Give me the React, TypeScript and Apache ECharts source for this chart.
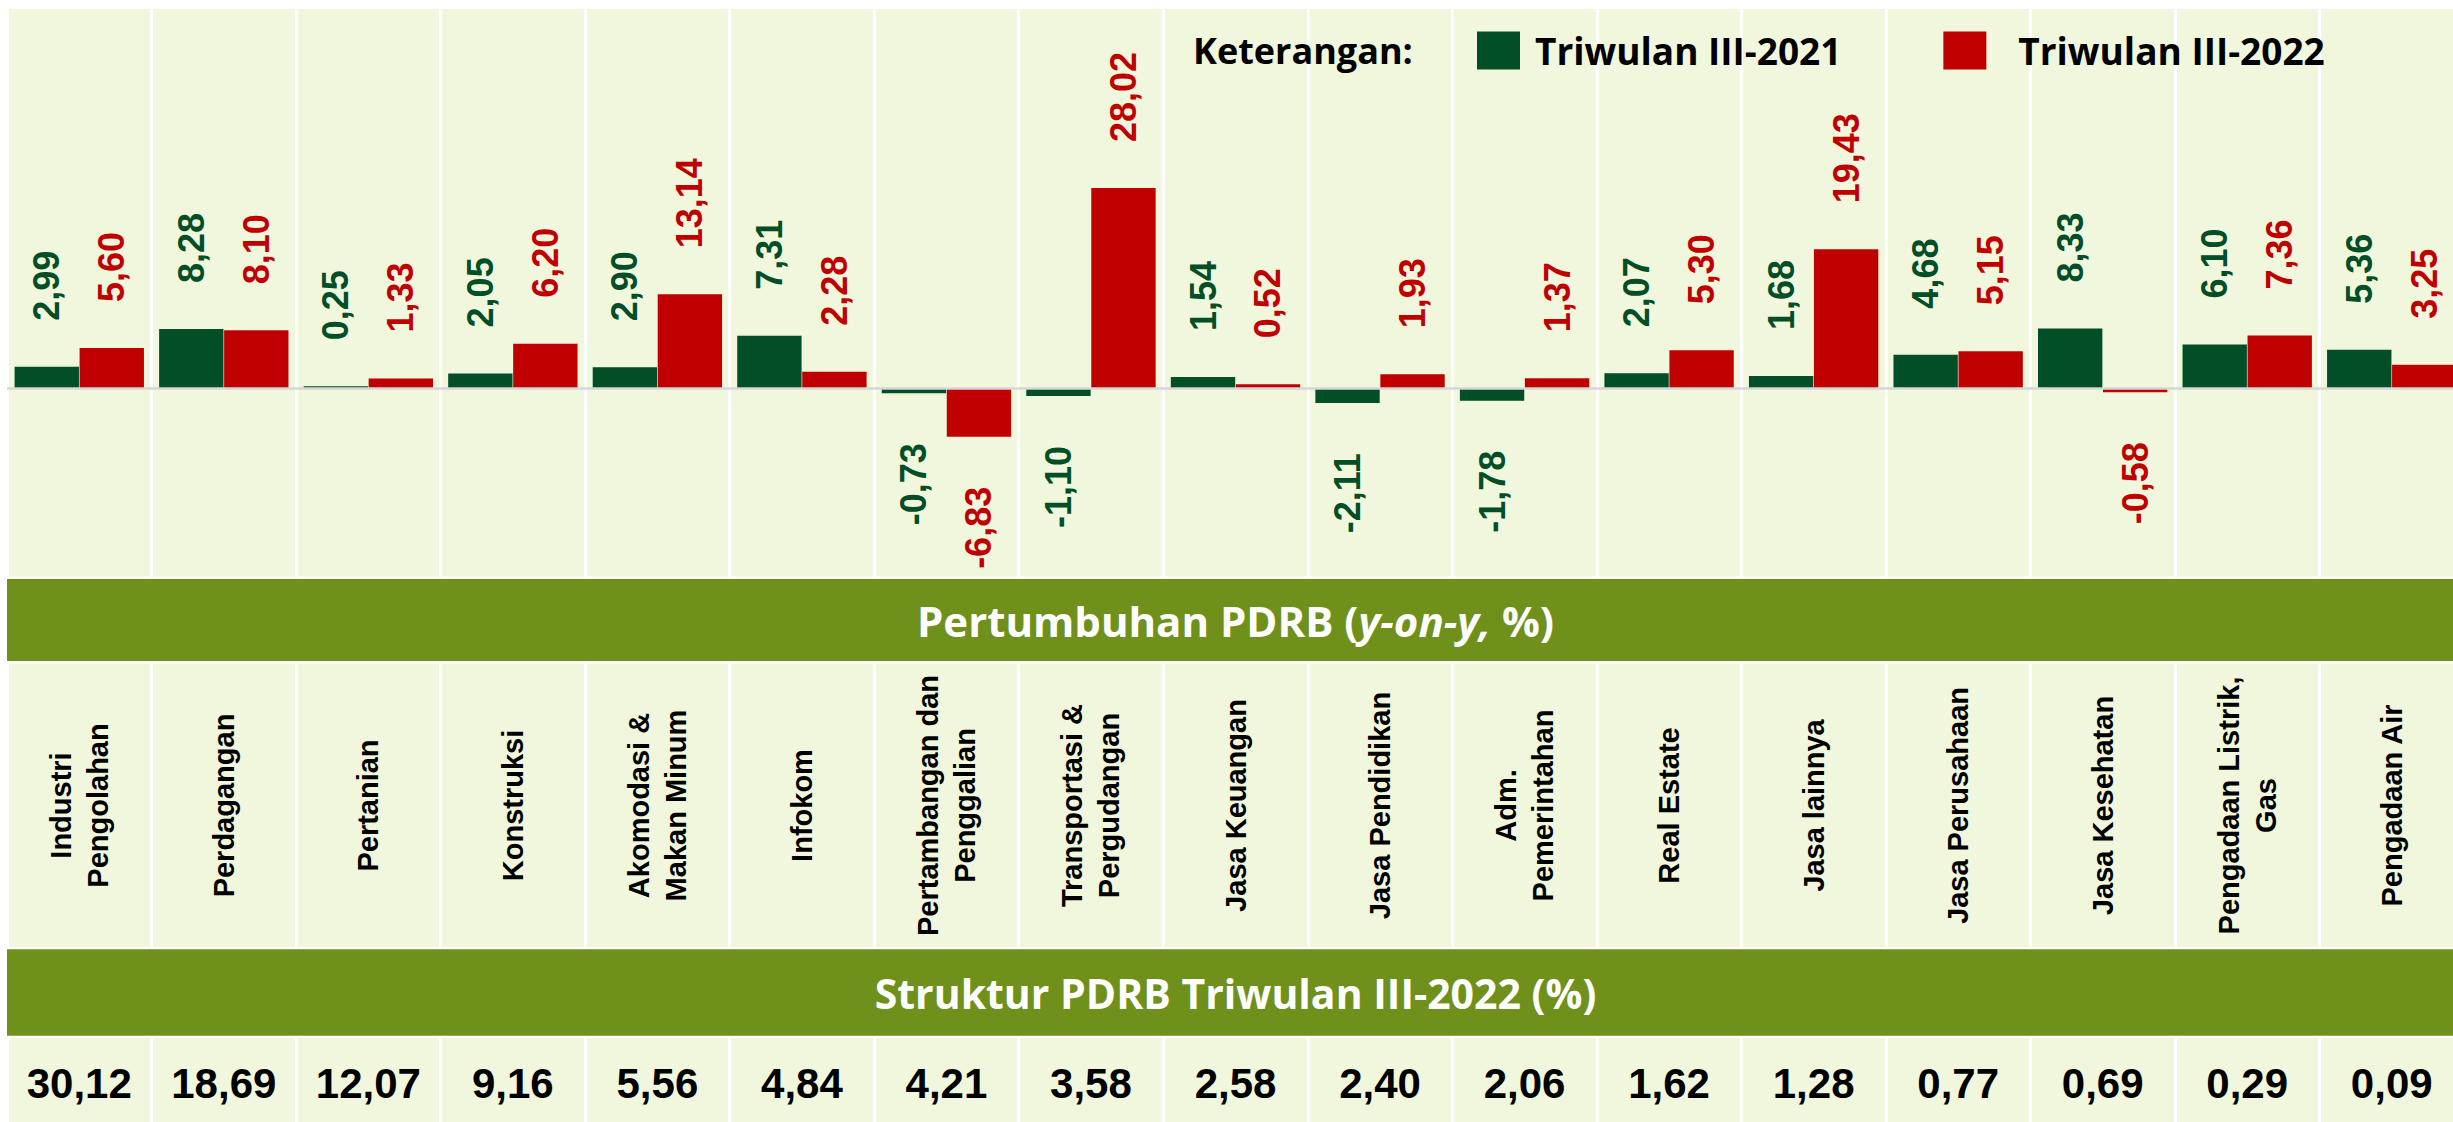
import React, { useEffect, useRef } from "react";
import * as echarts from "echarts";

const categories = [
  "Industri\nPengolahan",
  "Perdagangan",
  "Pertanian",
  "Konstruksi",
  "Akomodasi &\nMakan Minum",
  "Infokom",
  "Pertambangan dan\nPenggalian",
  "Transportasi &\nPergudangan",
  "Jasa Keuangan",
  "Jasa Pendidikan",
  "Adm.\nPemerintahan",
  "Real Estate",
  "Jasa lainnya",
  "Jasa Perusahaan",
  "Jasa Kesehatan",
  "Pengadaan Listrik,\nGas",
  "Pengadaan Air",
];
const seriesNames = ["Triwulan III-2021", "Triwulan III-2022"];
const growth2021 = [2.99, 8.28, 0.25, 2.05, 2.9, 7.31, -0.73, -1.1, 1.54, -2.11, -1.78, 2.07, 1.68, 4.68, 8.33, 6.1, 5.36];
const growth2022 = [5.6, 8.1, 1.33, 6.2, 13.14, 2.28, -6.83, 28.02, 0.52, 1.93, 1.37, 5.3, 19.43, 5.15, -0.58, 7.36, 3.25];
const share2022 = [30.12, 18.69, 12.07, 9.16, 5.56, 4.84, 4.21, 3.58, 2.58, 2.4, 2.06, 1.62, 1.28, 0.77, 0.69, 0.29, 0.09];
const yMin = -26.4;
const yMax = 53.1;

const fmt = (v: number) => v.toFixed(2).replace(".", ",");

const W = 2457;
const H = 1122;
const PLOT_TOP = 1;
const PLOT_H = 567.5;
const BAND1_TOP = 571;
const BAND1_H = 82;
const CAT_TOP = 655.7;
const CAT_H = 283.6;
const BAND2_TOP = 941.3;
const BAND2_H = 86.4;
const VAL_TOP = 1030.3;
const VAL_H = 93.7;

const BG = "#F0F7DD";
const BAND = "#6F901B";
const GREEN = "#024E27";
const RED = "#C00000";
const HEAD_FONT = '"Open Sans", "Noto Sans", sans-serif';
const ARIAL = '"Liberation Sans", Arial, sans-serif';

function barData(values: number[]) {
  return values.map((v) =>
    v < 0
      ? { value: v, label: { position: "bottom", align: "right", distance: 50 } }
      : { value: v }
  );
}

export default function App() {
  const ref = useRef<HTMLDivElement>(null);
  useEffect(() => {
    if (!ref.current) return;
    const chart = echarts.init(ref.current, null, { renderer: "svg" });
    const splitLine = { show: true, interval: 0, lineStyle: { color: "#FFFFFF", width: 3 } };
    const gridBase = { left: 0, right: 0, show: true, backgroundColor: BG, borderWidth: 0 };
    const barLabel = (color: string) => ({
      show: true,
      position: "top",
      distance: 46,
      rotate: 90,
      align: "left",
      verticalAlign: "middle",
      color,
      fontFamily: ARIAL,
      fontWeight: "bold",
      fontSize: 36,
      formatter: (p: any) => fmt(p.value),
    });
    const legendText = {
      fontFamily: HEAD_FONT,
      fontWeight: "bold",
      fontSize: 37,
      color: "#000000",
    };
    const option: any = {
      animation: false,
      backgroundColor: "#FFFFFF",
      grid: [
        { ...gridBase, top: PLOT_TOP, height: PLOT_H },
        { ...gridBase, top: CAT_TOP, height: CAT_H },
        { ...gridBase, top: VAL_TOP, height: VAL_H },
      ],
      xAxis: [
        {
          type: "category",
          gridIndex: 0,
          data: categories,
          z: 10,
          axisLine: { show: true, onZero: true, lineStyle: { color: "#D6D6D6", width: 2.5 } },
          axisTick: { show: false },
          axisLabel: { show: false },
          splitLine,
        },
        {
          type: "category",
          gridIndex: 1,
          data: categories,
          position: "bottom",
          axisLine: { show: false },
          axisTick: { show: false },
          splitLine,
          axisLabel: {
            show: true,
            interval: 0,
            rotate: 90,
            align: "center",
            verticalAlign: "middle",
            margin: -CAT_H / 2,
            color: "#000000",
            fontFamily: ARIAL,
            fontWeight: "bold",
            fontSize: 29,
            lineHeight: 37,
          },
        },
        {
          type: "category",
          gridIndex: 2,
          data: share2022.map(fmt),
          position: "bottom",
          axisLine: { show: false },
          axisTick: { show: false },
          splitLine,
          axisLabel: {
            show: true,
            interval: 0,
            align: "center",
            verticalAlign: "middle",
            margin: -(VAL_H - 47),
            color: "#000000",
            fontFamily: ARIAL,
            fontWeight: "bold",
            fontSize: 42,
          },
        },
      ],
      yAxis: [
        { type: "value", gridIndex: 0, min: yMin, max: yMax, show: false, splitLine: { show: false } },
        { type: "value", gridIndex: 1, min: 0, max: 1, show: false, splitLine: { show: false } },
        { type: "value", gridIndex: 2, min: 0, max: 1, show: false, splitLine: { show: false } },
      ],
      legend: {
        data: [
          { name: seriesNames[0], textStyle: { ...legendText, padding: [0, 0, 0, 10] } },
          { name: seriesNames[1], textStyle: { ...legendText, padding: [0, 0, 0, 27] } },
        ],
        z: 30,
        left: 1470,
        top: 23.4,
        padding: 0,
        icon: "rect",
        itemWidth: 43,
        itemHeight: 38,
        itemGap: 102,
        selectedMode: false,
        textStyle: legendText,
      },
      series: [
        {
          name: seriesNames[0],
          type: "bar",
          xAxisIndex: 0,
          yAxisIndex: 0,
          data: barData(growth2021),
          itemStyle: { color: GREEN },
          barCategoryGap: "10.5%",
          barGap: "1%",
          label: barLabel(GREEN),
        },
        {
          name: seriesNames[1],
          type: "bar",
          xAxisIndex: 0,
          yAxisIndex: 0,
          data: barData(growth2022),
          itemStyle: { color: RED },
          barCategoryGap: "10.5%",
          barGap: "1%",
          label: barLabel(RED),
        },
      ],
      graphic: [
        {
          type: "rect",
          shape: { x: 0, y: BAND1_TOP, width: W, height: BAND1_H },
          style: { fill: BAND },
          silent: true,
        },
        {
          type: "rect",
          shape: { x: 0, y: BAND2_TOP, width: W, height: BAND2_H },
          style: { fill: BAND },
          silent: true,
        },
        {
          type: "text",
          x: W / 2,
          y: BAND1_TOP + BAND1_H / 2,
          z: 30,
          silent: true,
          style: {
            text: "{n|Pertumbuhan PDRB (}{i|y-on-y,}{n| %)}",
            align: "center",
            verticalAlign: "middle",
            fill: "#FFFFFF",
            font: `bold 42px ${HEAD_FONT}`,
            rich: {
              n: { fill: "#FFFFFF", fontSize: 42, fontWeight: "bold", fontFamily: HEAD_FONT },
              i: { fill: "#FFFFFF", fontSize: 42, fontWeight: "bold", fontStyle: "italic", fontFamily: HEAD_FONT },
            },
          },
        },
        {
          type: "text",
          x: W / 2,
          y: BAND2_TOP + BAND2_H / 2,
          z: 30,
          silent: true,
          style: {
            text: "Struktur PDRB Triwulan III-2022 (%)",
            align: "center",
            verticalAlign: "middle",
            fill: "#FFFFFF",
            font: `bold 41px ${HEAD_FONT}`,
          },
        },
        {
          type: "text",
          x: 1186,
          y: 42,
          z: 30,
          silent: true,
          style: {
            text: "Keterangan:",
            align: "left",
            verticalAlign: "middle",
            fill: "#000000",
            font: `bold 36px ${HEAD_FONT}`,
          },
        },
      ],
    };
    chart.setOption(option);
    return () => chart.dispose();
  }, []);
  return (
    <div style={{ position: "fixed", left: 0, top: 0, width: "100vw", height: "100vh", overflow: "hidden", background: "#fff" }}>
      <div ref={ref} style={{ position: "absolute", left: 7, top: 8, width: W, height: H }} />
    </div>
  );
}
